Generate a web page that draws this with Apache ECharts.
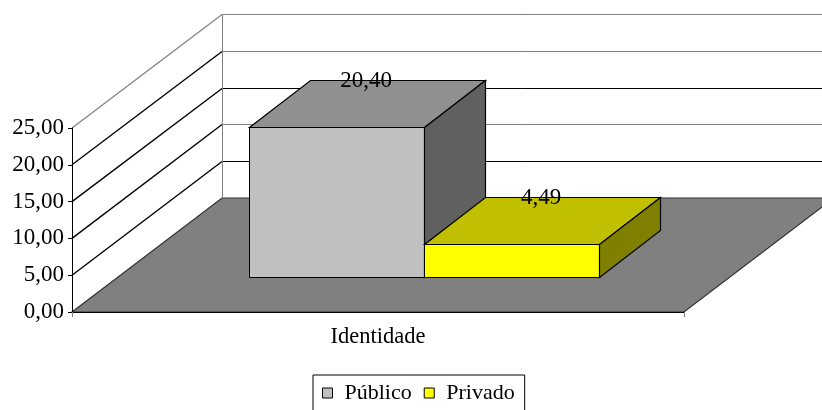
<!DOCTYPE html>
<html>
<head>
<meta charset="utf-8">
<script src="https://cdn.jsdelivr.net/npm/echarts@6/dist/echarts.min.js"></script>
<style>html,body{margin:0;padding:0;background:#fff;}#c{width:822px;height:410px;}</style>
</head>
<body>
<div id="c"></div>
<script>
const categories = ['Identidade'];
const seriesNames = ['Público', 'Privado'];
const publicoValues = [20.40];
const privadoValues = [4.49];
const yTicks = [0, 5, 10, 15, 20, 25];

const FONT = 'Liberation Serif';
const DEPTH = [150, -114];          // full depth projection (px)
const BAR_FRONT = 0.307, BAR_BACK = 0.715; // bar depth fractions
const GAP = 1.5;                     // gap width as fraction of bar width
const faceColors = [
  { front: '#C0C0C0', top: '#909090', side: '#606060' },
  { front: '#FFFF00', top: '#C0C000', side: '#808000' }
];
const fmt = v => v.toFixed(2).replace('.', ',');
const h = v => Math.round(v) + 0.5;

function sceneItem(params, api) {
  const c0 = api.coord([0, 0]);
  const band = api.size([1, 0])[0];
  const L = c0[0] - band / 2, R = c0[0] + band / 2;
  const y0 = c0[1];
  const yTop = api.coord([0, yTicks[yTicks.length - 1]])[1];
  const ch = [];
  // floor
  ch.push({ type: 'polygon', shape: { points: [[L, y0], [L + DEPTH[0], y0 + DEPTH[1]], [R + DEPTH[0], y0 + DEPTH[1]], [R, y0]] },
    style: { fill: '#808080', stroke: '#303030', lineWidth: 1.2 } });
  // gridlines
  yTicks.forEach((v, i) => {
    if (v === 0) return;
    const y = api.coord([0, v])[1];
    const isTop = i === yTicks.length - 1;
    const backCol = (v === 25 || v === 20 || v === 10) ? '#808080' : '#000';
    ch.push({ type: 'line', shape: { x1: L, y1: y, x2: L + DEPTH[0], y2: h(y + DEPTH[1]) },
      style: { stroke: isTop ? '#808080' : '#000', lineWidth: isTop ? 1.2 : 1.4 } });
    ch.push({ type: 'line', shape: { x1: h(L + DEPTH[0]), y1: h(y + DEPTH[1]), x2: R + DEPTH[0], y2: h(y + DEPTH[1]) },
      style: { stroke: backCol, lineWidth: 1 } });
  });
  // back wall vertical edge
  ch.push({ type: 'line', shape: { x1: h(L + DEPTH[0]), y1: h(yTop + DEPTH[1]), x2: h(L + DEPTH[0]), y2: h(y0 + DEPTH[1]) },
    style: { stroke: '#808080', lineWidth: 1 } });
  return { type: 'group', children: ch };
}

function barItem(sIdx) {
  return function (params, api) {
    const cat = api.value(0), val = api.value(1);
    const base = api.coord([cat, 0]);
    const top = api.coord([cat, val]);
    const band = api.size([1, 0])[0];
    const bw = band / (seriesNames.length + GAP);
    const x0 = base[0] - band / 2 + bw * GAP / 2 + sIdx * bw;
    const x1 = x0 + bw;
    const fx = DEPTH[0] * BAR_FRONT, fy = DEPTH[1] * BAR_FRONT;
    const bx = DEPTH[0] * BAR_BACK, by = DEPTH[1] * BAR_BACK;
    const yb = base[1], yt = top[1];
    const col = faceColors[sIdx];
    const st = { stroke: '#000', lineWidth: 1, lineJoin: 'miter' };
    const P = (x, y) => [h(x), h(y)];
    return { type: 'group', children: [
      { type: 'polygon', shape: { points: [P(x0 + fx, yb + fy), P(x1 + fx, yb + fy), P(x1 + fx, yt + fy), P(x0 + fx, yt + fy)] },
        style: Object.assign({ fill: col.front }, st) },
      { type: 'polygon', shape: { points: [P(x0 + fx, yt + fy), P(x1 + fx, yt + fy), P(x1 + bx, yt + by), P(x0 + bx, yt + by)] },
        style: Object.assign({ fill: col.top }, st, { lineWidth: 1.2 }) },
      { type: 'polygon', shape: { points: [P(x1 + fx, yb + fy), P(x1 + bx, yb + by), P(x1 + bx, yt + by), P(x1 + fx, yt + fy)] },
        style: Object.assign({ fill: col.side }, st, { lineWidth: 1.2 }) },
      { type: 'text', z2: 100, style: { text: fmt(val), x: (x0 + x1) / 2 + (fx + bx) / 2 - 1, y: yt + by + 1,
        align: 'center', verticalAlign: 'middle', fontFamily: FONT, fontSize: 23, fill: '#000' } }
    ] };
  };
}

const chart = echarts.init(document.getElementById('c'), null, { renderer: 'canvas' });
chart.setOption({
  animation: false,
  backgroundColor: '#fff',
  grid: { left: 72, right: 138, top: 128, bottom: 98, containLabel: false },
  xAxis: {
    type: 'category', data: categories, z: 10,
    axisLine: { show: true, lineStyle: { color: '#000', width: 1 } },
    axisTick: { show: true, length: 5, lineStyle: { color: '#808080' } },
    axisLabel: { margin: 14, fontFamily: FONT, fontSize: 22.5, color: '#000' },
    splitLine: { show: false }
  },
  yAxis: {
    type: 'value', min: 0, max: 25, interval: 5, z: 10,
    axisLine: { show: true, lineStyle: { color: '#000', width: 1 } },
    axisTick: { show: true, length: 4, lineStyle: { color: '#000' } },
    axisLabel: { margin: 8, fontFamily: FONT, fontSize: 23, color: '#000', formatter: fmt },
    splitLine: { show: false }
  },
  legend: {
    data: seriesNames, left: 313, top: 375, orient: 'horizontal',
    borderColor: '#000', borderWidth: 1, padding: [7, 10, 9, 9],
    icon: 'rect', itemWidth: 10, itemHeight: 10, itemGap: 12,
    itemStyle: { borderColor: '#000', borderWidth: 1 },
    textStyle: { fontFamily: FONT, fontSize: 22, color: '#000', padding: [0, 0, 0, 7] }
  },
  series: [
    { type: 'custom', name: 'scene', clip: false, silent: true, z: 1,
      data: [[0]], renderItem: sceneItem, encode: { x: 0 } },
    { type: 'custom', name: seriesNames[0], clip: false, z: 2, itemStyle: { color: faceColors[0].front },
      data: publicoValues.map((v, i) => [i, v]), encode: { x: 0, y: 1 }, renderItem: barItem(0) },
    { type: 'custom', name: seriesNames[1], clip: false, z: 3, itemStyle: { color: faceColors[1].front },
      data: privadoValues.map((v, i) => [i, v]), encode: { x: 0, y: 1 }, renderItem: barItem(1) }
  ]
});
</script>
</body>
</html>
